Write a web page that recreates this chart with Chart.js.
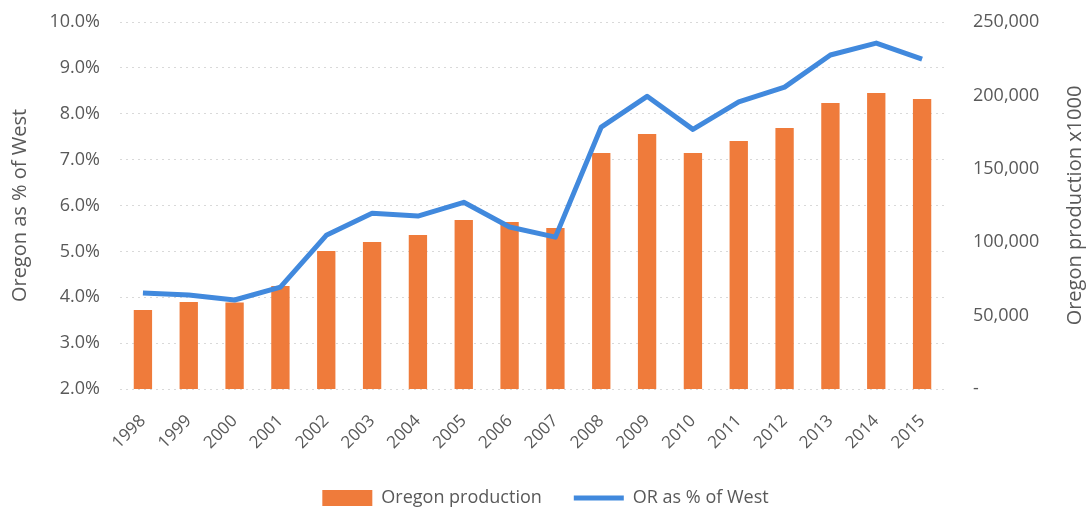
<!DOCTYPE html>
<html>
<head>
<meta charset="utf-8">
<script src="https://cdn.jsdelivr.net/npm/chart.js@4"></script>
<style>
  html, body { margin: 0; padding: 0; background: #fff; }
  #wrap { width: 1091px; height: 510px; }
</style>
</head>
<body>
<div id="wrap"><canvas id="orChart"></canvas></div>
<script>
const years = ['1998', '1999', '2000', '2001', '2002', '2003', '2004', '2005', '2006',
  '2007', '2008', '2009', '2010', '2011', '2012', '2013', '2014', '2015'];

// Oregon production x1000 (right axis)
const production = [53800, 59300, 59000, 70200, 94000, 100100, 104900, 115100, 113800,
  109700, 160800, 173700, 160800, 169000, 177800, 194800, 201600, 197500];

// Oregon as % of West (left axis)
const pctOfWest = [4.09, 4.05, 3.94, 4.22, 5.35, 5.83, 5.77, 6.07, 5.53,
  5.31, 7.71, 8.38, 7.66, 8.26, 8.58, 9.28, 9.54, 9.19];

const leftTicks = [2, 3, 4, 5, 6, 7, 8, 9, 10];
const rightTicks = [0, 50000, 100000, 150000, 200000, 250000];

const tickColor = '#595959';
const fontFam = '"Open Sans", "Liberation Sans", sans-serif';
const rightTitle = 'Oregon production x1000';

// right axis title reads bottom-to-top in the original, so draw it by hand
const rightTitlePlugin = {
  id: 'rightTitle',
  afterInit(chart) {
    // wide gap between legend items but a short legend box
    const legend = chart.legend;
    const origFit = legend.fit;
    legend.fit = function () {
      origFit.call(this);
      this.height = 53;
    };
  },
  afterDraw(chart) {
    const c = chart.ctx;
    const area = chart.chartArea;
    c.save();
    c.translate(1075, (area.top + area.bottom) / 2);
    c.rotate(-Math.PI / 2);
    c.fillStyle = tickColor;
    c.font = '20px ' + fontFam;
    c.textAlign = 'center';
    c.textBaseline = 'middle';
    c.fillText(rightTitle, 0, 0);
    c.restore();
  },
};

// keep the plot top where the original has it
function fitY(width) {
  return scale => {
    scale.width = width;
    scale.paddingTop = 22;
    scale.paddingBottom = 0;
  };
}

const ctx = document.getElementById('orChart').getContext('2d');
const orChart = new Chart(ctx, {
  data: {
    labels: years,
    datasets: [{
      type: 'bar',
      label: 'Oregon production',
      data: production,
      yAxisID: 'yRight',
      backgroundColor: '#EF7B3B',
      categoryPercentage: 1,
      barPercentage: 0.4,
      order: 1,
    }, {
      type: 'line',
      label: 'OR as % of West',
      data: pctOfWest,
      yAxisID: 'yLeft',
      borderColor: '#4189DD',
      backgroundColor: '#4189DD',
      borderWidth: 5,
      pointRadius: 0,
      tension: 0,
      borderJoinStyle: 'round',
      order: 0,
    }],
  },
  plugins: [rightTitlePlugin],
  options: {
    responsive: true,
    maintainAspectRatio: false,
    animation: false,
    layout: { padding: 0 },
    plugins: {
      tooltip: { enabled: false },
      legend: {
        position: 'bottom',
        labels: {
          color: tickColor,
          font: { family: fontFam, size: 18 },
          usePointStyle: true,
          pointStyleWidth: 50,
          boxHeight: 16,
          padding: 32,
          sort: (a, b) => a.datasetIndex - b.datasetIndex,
          generateLabels: chart => {
            const items = Chart.defaults.plugins.legend.labels.generateLabels(chart);
            items.forEach(item => {
              const ds = chart.data.datasets[item.datasetIndex];
              item.pointStyle = ds.type === 'line' ? 'line' : 'rect';
              if (ds.type !== 'line') item.lineWidth = 0;
            });
            return items;
          },
        },
      },
    },
    scales: {
      x: {
        grid: { display: false },
        border: { display: false },
        ticks: {
          color: tickColor,
          font: { family: fontFam, size: 17 },
          minRotation: 45,
          maxRotation: 45,
          padding: 14,
        },
        afterFit: scale => { scale.height = 68; },
      },
      yLeft: {
        position: 'left',
        min: 2,
        max: 10,
        afterBuildTicks: scale => { scale.ticks = leftTicks.map(v => ({ value: v })); },
        ticks: {
          color: tickColor,
          font: { family: fontFam, size: 18 },
          callback: v => v.toFixed(1) + '%',
          padding: 20,
        },
        grid: { color: '#d9d9d9', lineWidth: 1, drawTicks: false },
        border: { display: false, dash: [2, 4] },
        title: {
          display: true,
          text: 'Oregon as % of West',
          color: tickColor,
          font: { family: fontFam, size: 20 },
          padding: { top: 8, bottom: 0 },
        },
        afterFit: fitY(120),
      },
      yRight: {
        position: 'right',
        min: 0,
        max: 250000,
        afterBuildTicks: scale => { scale.ticks = rightTicks.map(v => ({ value: v })); },
        ticks: {
          color: tickColor,
          font: { family: fontFam, size: 18 },
          callback: v => v === 0 ? '-' : v.toLocaleString('en-US'),
          padding: 20,
        },
        grid: { display: false },
        border: { display: false },
        afterFit: fitY(146),
      },
    },
  },
});
</script>
</body>
</html>
